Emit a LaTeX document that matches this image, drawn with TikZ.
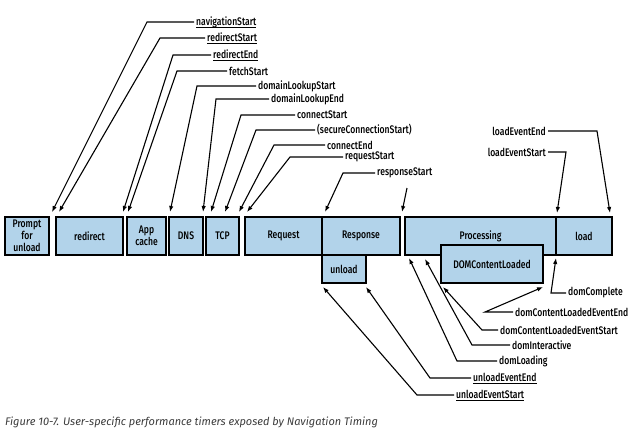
\documentclass[tikz,border=0pt]{standalone}
\usepackage{fontspec}
\setmainfont[FakeStretch=0.78, UprightFont={* Medium}]{Fira Sans}
\newfontfamily\capfont{Fira Sans}
\usetikzlibrary{arrows.meta}
\definecolor{boxblue}{RGB}{178,211,234}
\definecolor{capgray}{RGB}{60,60,60}
\newcommand\tmul[1]{\setbox0\hbox{#1}\rlap{\rule[-2.2pt]{\wd0}{0.7pt}}\box0}
\begin{document}
\begin{tikzpicture}[x=1pt, y=-1pt,
  box/.style={draw, line width=1.4pt, fill=boxblue, inner sep=0pt, align=center, font=\fontsize{11}{12}\selectfont},
  lbl/.style={inner sep=2pt, font=\fontsize{11}{11}\selectfont},
  tim/.style={line width=1.1pt, -{Latex[length=6pt,width=4.5pt]}}]
\path[use as bounding box, fill=white] (0,0) rectangle (636,437);
\node[box, minimum width=44pt, minimum height=38pt] (bprompt) at (27,236) {Prompt\\for\\unload};
\node[box, minimum width=67pt, minimum height=38pt] (bredirect) at (89.5,236) {redirect};
\node[box, minimum width=39pt, minimum height=38pt] (bappcache) at (146.5,236) {App\\cache};
\node[box, minimum width=34pt, minimum height=38pt] (bdns) at (186,236) {DNS};
\node[box, minimum width=33pt, minimum height=38pt] (btcp) at (222.5,236) {TCP};
\node[box, minimum width=77pt, minimum height=38pt] (brequest) at (283.5,236) {Request};
\node[box, minimum width=78pt, minimum height=38pt] (bresponse) at (361,236) {Response};
\node[box, minimum width=44pt, minimum height=28pt] (bunload) at (344,269) {unload};
\node[box, minimum width=151pt, minimum height=38pt] (bprocessing) at (480.5,236) {Processing};
\node[box, minimum width=56pt, minimum height=38pt] (bload) at (584,236) {load};
\node[box, minimum width=102pt, minimum height=38pt] (bdcl) at (492,264) {DOMContentLoaded};
\node[lbl, anchor=west] (ts0) at (194,22) {\tmul{navigationStart}};
\coordinate (k0) at (147,22);
\coordinate (p0) at (52,212);
\draw[tim] (ts0.west) -- (k0) -- (p0);
\node[lbl, anchor=west] (ts1) at (205,38) {\tmul{redirectStart}};
\coordinate (k1) at (160,38);
\coordinate (p1) at (59,212);
\draw[tim] (ts1.west) -- (k1) -- (p1);
\node[lbl, anchor=west] (ts2) at (211,55) {\tmul{redirectEnd}};
\coordinate (k2) at (173,55);
\coordinate (p2) at (123,212);
\draw[tim] (ts2.west) -- (k2) -- (p2);
\node[lbl, anchor=west] (ts3) at (227,71) {fetchStart};
\coordinate (k3) at (177,71);
\coordinate (p3) at (128,212);
\draw[tim] (ts3.west) -- (k3) -- (p3);
\node[lbl, anchor=west] (ts4) at (256,86) {domainLookupStart};
\coordinate (k4) at (197,86);
\coordinate (p4) at (170,212);
\draw[tim] (ts4.west) -- (k4) -- (p4);
\node[lbl, anchor=west] (ts5) at (269,99) {domainLookupEnd};
\coordinate (k5) at (216,99);
\coordinate (p5) at (203,212);
\draw[tim] (ts5.west) -- (k5) -- (p5);
\node[lbl, anchor=west] (ts6) at (295,115) {connectStart};
\coordinate (k6) at (241,115);
\coordinate (p6) at (211,212);
\draw[tim] (ts6.west) -- (k6) -- (p6);
\node[lbl, anchor=west] (ts7) at (315,130) {(secureConnectionStart)};
\coordinate (k7) at (256,130);
\coordinate (p7) at (225,212);
\draw[tim] (ts7.west) -- (k7) -- (p7);
\node[lbl, anchor=west] (ts8) at (325,145) {connectEnd};
\coordinate (k8) at (274,145);
\coordinate (p8) at (239,212);
\draw[tim] (ts8.west) -- (k8) -- (p8);
\node[lbl, anchor=west] (ts9) at (343,157) {requestStart};
\coordinate (k9) at (290,157);
\coordinate (p9) at (247,212);
\draw[tim] (ts9.west) -- (k9) -- (p9);
\node[lbl, anchor=west] (ts10) at (375,173) {responseStart};
\coordinate (k10) at (343,173);
\coordinate (p10) at (325,212);
\draw[tim] (ts10.west) -- (k10) -- (p10);
\coordinate (k11) at (407,188);
\coordinate (p11) at (402,212);
\draw[tim] (k11) -- (p11);
\node[lbl, anchor=east] (ts12) at (548,131) {loadEventEnd};
\coordinate (k12) at (597,131);
\coordinate (p12) at (610,213);
\draw[tim] (ts12.east) -- (k12) -- (p12);
\node[lbl, anchor=east] (ts13) at (548,152) {loadEventStart};
\coordinate (k13) at (566,152);
\coordinate (p13) at (557,213);
\draw[tim] (ts13.east) -- (k13) -- (p13);
\node[lbl, anchor=west] (ts14) at (566,293) {domComplete};
\coordinate (k14) at (551,293);
\coordinate (p14) at (556,258);
\draw[tim] (ts14.west) -- (k14) -- (p14);
\node[lbl, anchor=west] (ts15) at (513,312) {domContentLoadedEventEnd};
\coordinate (k15) at (485,312);
\coordinate (p15) at (543,287);
\draw[tim] (ts15.west) -- (k15) -- (p15);
\node[lbl, anchor=west] (ts16) at (498,330) {domContentLoadedEventStart};
\coordinate (k16) at (482,330);
\coordinate (p16) at (443,287);
\draw[tim] (ts16.west) -- (k16) -- (p16);
\node[lbl, anchor=west] (ts17) at (510,345) {domInteractive};
\coordinate (k17) at (472,345);
\coordinate (p17) at (425,259);
\draw[tim] (ts17.west) -- (k17) -- (p17);
\node[lbl, anchor=west] (ts18) at (497,361) {domLoading};
\coordinate (k18) at (457,361);
\coordinate (p18) at (409,258);
\draw[tim] (ts18.west) -- (k18) -- (p18);
\node[lbl, anchor=west] (ts19) at (471,378) {\tmul{unloadEventEnd}};
\coordinate (k19) at (430,378);
\coordinate (p19) at (366,287);
\draw[tim] (ts19.west) -- (k19) -- (p19);
\node[lbl, anchor=west] (ts20) at (454,395) {\tmul{unloadEventStart}};
\coordinate (k20) at (417,395);
\coordinate (p20) at (323,287);
\draw[tim] (ts20.west) -- (k20) -- (p20);
\node[anchor=west, inner sep=0pt, text=capgray, font=\capfont\itshape\fontsize{11}{12}\selectfont] (cap) at (5,422) {Figure 10-7. User-specific performance timers exposed by Navigation Timing};
\end{tikzpicture}
\end{document}
